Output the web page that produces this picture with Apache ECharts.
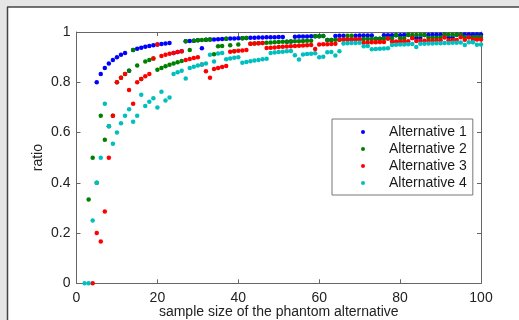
<!DOCTYPE html>
<html><head><meta charset="utf-8">
<script src="https://cdn.jsdelivr.net/npm/echarts@6/dist/echarts.min.js"></script>
<style>html,body{margin:0;padding:0;background:#fff}#c{width:519px;height:320px}</style>
</head><body><div id="c"></div>
<script>
// sample sizes 2..100 (index 0 -> size 2)
const firstSize = 2;
const alt1 = [null,null,null,.8,.8333,.8571,.875,.8889,.9,.9091,.9167,
  .8462,.9286,.9333,.9375,.9412,.9444,.9474,.95,.9524,.9545,.9565,
  .9167,.92,.9231,
  .963,.9643,.9655,.9667,.9355,.9688,.9697,.9706,.9714,.9722,.973,.9737,.9744,.975,
  .9756,.9762,.9767,.9773,.9778,.9783,.9787,.9792,.9796,.98,.9804,
  .9615,.9623,.9815,.9818,.9821,.9825,.9828,.9831,.9833,.9836,
  .9677,.9683,.9844,.9846,.9848,.9701,.9706,.9855,.9857,
  .9859,.9861,.9863,.973,.9733,.9868,.987,.9872,.9873,.9875,
  .9877,.9878,.9759,.9762,.9765,.9884,.9885,.9886,.9888,.9889,
  .989,.9783,.9785,.9894,.9895,.9896,.9897,.9898,.9899,.99];
const alt2 = [null,.3333,.5,.4,.6667,.5714,.625,.6667,.8,.8182,.8333,
  .8462,.9286,.8667,.8125,.8824,.8889,.8947,.85,.8571,.8636,.8696,.875,.88,.8846,
  .963,.9286,.9655,.9667,.9677,.9688,.9697,.9118,.9429,.9444,.973,.9474,.9231,.95,
  .9756,.9762,.9535,.9545,.9556,.9565,.9574,.9583,.9592,.96,.9608,.9615,.9623,.963,.9636,.9643,.9649,.9655,
  .9831,.9833,.9836,.9677,.9683,.9688,.9692,.9697,.9851,.9853,.971,.9714,.9718,.9722,.9726,.973,.9733,.9737,.974,.9744,
  .9873,.975,.9753,.9878,.988,.9881,.9882,.9884,.977,.9773,.9775,.9778,
  .989,.9891,.9892,.9894,.9895,.9792,.9794,.9796,.9798,.98];
const alt3 = [null,null,0,.2,.1667,.2857,.5,.6667,.8,.8182,.8333,
  .7692,.7143,.8,.8125,.8235,.8333,.8947,.95,.9048,.9091,.913,.9167,.92,.9231,
  .8889,.8929,.8966,.9,.871,.8438,.8182,.8529,.8571,.8611,.8649,.9211,.9231,.925,
  .9268,.9286,.9535,.9545,.9556,.9565,.9362,.9375,.9388,.94,.9412,.9423,.9434,.9444,.9455,.9464,.9474,.9483,
  .9322,.95,.9508,.9516,.9524,.9531,.9692,.9697,.9701,.9706,.971,.9714,
  .9577,.9583,.9589,.9595,.96,.9605,.974,.9615,.962,.9625,.963,.9634,.9759,.9643,.9647,.9651,.9655,.9659,.9663,.9667,
  .978,.9674,.9677,.9681,.9789,.9688,.9794,.9694,.9697,.97];
const alt4 = [0,0,.25,.4,.5,.7143,.625,.5556,.6,.6364,.6667,
  .6923,.6429,.6667,.75,.7059,.7222,.7368,.7,.7619,.7273,.7391,.8333,.84,.8462,
  .8148,.8571,.8621,.8667,.871,.875,.9091,.8824,.9143,.9167,.8919,.8947,.8974,.9,
  .878,.881,.8837,.8864,.8889,.8913,.8936,.9167,.9184,.92,.9216,.9231,.9245,.9074,.8909,.9107,.9123,.9138,.9153,
  .9,.9016,.9194,.9206,.9063,.9231,.9545,.9552,.9559,.9565,.9571,.9437,.9444,.9315,.9324,.9333,.9342,.9351,
  .9487,.9494,.95,.9506,.9512,.9518,.9405,.9529,.9535,.954,.9545,.9551,.9556,.956,.9565,.957,.9574,.9579,
  .9479,.9588,.9592,.9495,.95];
const seriesNames = ['Alternative 1','Alternative 2','Alternative 3','Alternative 4'];
const seriesColors = ['#0000ff','#008000','#ff0000','#00bfbf'];
const xTicks = [0,20,40,60,80,100];
const yTicks = [0,0.2,0.4,0.6,0.8,1];

function pairs(arr){ const out=[]; arr.forEach((v,i)=>{ if(v!==null) out.push([firstSize+i, v]); }); return out; }
const FONT = 'Liberation Sans';
const axisCommon = {
  type:'value', axisLine:{show:true, onZero:false, lineStyle:{color:'#666', width:1}},
  axisTick:{show:true, inside:true, length:4, lineStyle:{color:'#666'}},
  splitLine:{show:false}
};
const chart = echarts.init(document.getElementById('c'), null, {renderer:'canvas'});
chart.setOption({
  animation:false,
  backgroundColor:'#ffffff',
  graphic:[
    {type:'rect', shape:{x:0,y:0,width:519,height:7}, style:{fill:'#e6e6e6'}, z:-10},
    {type:'rect', shape:{x:0,y:0,width:7,height:320}, style:{fill:'#e6e6e6'}, z:-10},
    {type:'line', shape:{x1:7,y1:7,x2:519,y2:7}, style:{stroke:'#444', lineWidth:1.5}, z:-9},
    {type:'line', shape:{x1:7.5,y1:7,x2:7.5,y2:320}, style:{stroke:'#444', lineWidth:1.5}, z:-9}
  ],
  grid:{left:76.5, top:32, width:404.5, height:251.3, containLabel:false, outerBoundsMode:'none'},
  legend:{
    data:seriesNames, orient:'vertical', left:332, top:119,
    icon:'circle', itemWidth:4, itemHeight:4, itemGap:3,
    backgroundColor:'#fff', borderColor:'#777', borderWidth:1,
    padding:[6,6,5,29],
    textStyle:{fontFamily:FONT, fontSize:14, color:'#1a1a1a', lineHeight:14, padding:[0,0,0,19]}
  },
  xAxis:[
    Object.assign({}, axisCommon, {position:'bottom', min:xTicks[0], max:xTicks[xTicks.length-1], interval:20,
      axisLabel:{color:'#222', fontFamily:FONT, fontSize:14, margin:8},
      name:'sample size of the phantom alternative', nameLocation:'middle', nameGap:22, nameMoveOverlap:false,
      nameTextStyle:{color:'#222', fontFamily:FONT, fontSize:14}}),
    Object.assign({}, axisCommon, {position:'top', min:0, max:100, interval:20, axisLabel:{show:false}})
  ],
  yAxis:[
    Object.assign({}, axisCommon, {position:'left', min:yTicks[0], max:yTicks[yTicks.length-1], interval:0.2,
      axisLabel:{color:'#222', fontFamily:FONT, fontSize:14, margin:6},
      name:'ratio', nameLocation:'middle', nameGap:31, nameMoveOverlap:false,
      nameTextStyle:{color:'#222', fontFamily:FONT, fontSize:14}}),
    Object.assign({}, axisCommon, {position:'right', min:0, max:1, interval:0.2, axisLabel:{show:false}})
  ],
  series:[alt1,alt2,alt3,alt4].map((arr,k)=>({
    name:seriesNames[k], type:'scatter', data:pairs(arr), symbolSize:4.5,
    itemStyle:{color:seriesColors[k], opacity:1}, emphasis:{disabled:true}, z:2+k
  }))
});
</script></body></html>
